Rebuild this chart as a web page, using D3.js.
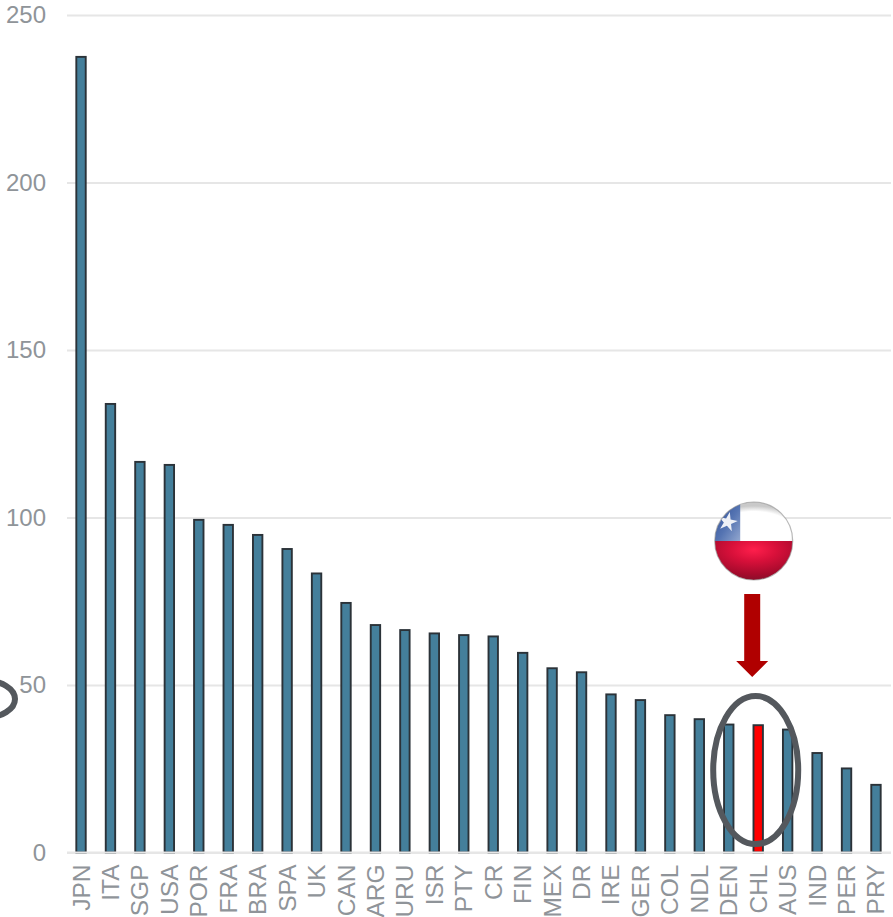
<!DOCTYPE html>
<html>
<head>
<meta charset="utf-8">
<script src="https://cdn.jsdelivr.net/npm/d3@7"></script>
<style>
html,body{margin:0;padding:0;background:#fff;overflow:hidden}
svg{display:block}
text{font-family:"Liberation Sans",Arial,sans-serif}
</style>
</head>
<body>
<svg id="chart" width="893" height="917"></svg>
<script>
// Country codes and their values, in descending order
const countries = ["JPN","ITA","SGP","USA","POR","FRA","BRA","SPA","UK","CAN","ARG","URU","ISR","PTY","CR","FIN","MEX","DR","IRE","GER","COL","NDL","DEN","CHL","AUS","IND","PER","PRY"];
const values = [237.5,133.9,116.6,115.7,99.3,97.8,94.8,90.6,83.3,74.5,67.9,66.4,65.4,64.9,64.5,59.6,55,53.8,47.2,45.5,41,39.8,38.2,38,36.7,29.7,25.1,20.2];
const yTicks = [0,50,100,150,200,250];
const highlighted = "CHL";

const svg = d3.select("#chart");
const gridLeft = 67, gridRight = 891, yBase = 852.5, yTop = 15;

const x = d3.scaleBand().domain(countries).range([66.3, 890.7]).paddingInner(0.68).paddingOuter(0.34);
const y = d3.scaleLinear().domain([0, 250]).range([yBase, yTop]);

// Horizontal gridlines and value labels
const yAxis = svg.append("g")
  .attr("transform", `translate(${gridLeft},0)`)
  .call(d3.axisLeft(y).tickValues(yTicks).tickSize(-(gridRight - gridLeft)).tickPadding(21));
yAxis.select(".domain").remove();
yAxis.selectAll(".tick line").attr("stroke", "#e6e6e6").attr("stroke-width", 2);
yAxis.selectAll(".tick text").attr("fill", "#8f9499").style("font-size", "24px").attr("font-family", null);

// Bars
svg.append("g").selectAll("rect").data(countries).join("rect")
  .attr("x", d => x(d))
  .attr("width", x.bandwidth())
  .attr("y", (d, i) => y(values[i]))
  .attr("height", (d, i) => yBase - y(values[i]))
  .attr("fill", d => d === highlighted ? "#ff0000" : "#447f9b")
  .attr("stroke", "#2b3238")
  .attr("stroke-width", 1.9);

// Category axis drawn over the bar bases
const xAxis = svg.append("g")
  .attr("transform", `translate(0,${yBase})`)
  .call(d3.axisBottom(x).tickSize(0).tickPadding(0));
xAxis.select(".domain").remove();
xAxis.append("line").attr("x1", gridLeft).attr("x2", gridRight)
  .attr("stroke", "#e6e6e6").attr("stroke-width", 2);
xAxis.selectAll(".tick text")
  .attr("fill", "#8f9499").attr("font-family", null).style("font-size", "24.5px")
  .attr("text-anchor", "end").attr("dy", null)
  .attr("dominant-baseline", "central")
  .attr("transform", "translate(0,12) rotate(-90)")
  .attr("x", 0).attr("y", 0);

// Rings around the highlighted group and beside the 50 label
const ringColor = "#54585d";
const hx = x(highlighted) + x.bandwidth() / 2;
svg.append("ellipse")
  .attr("cx", hx - 2.5).attr("cy", y(24.6)).attr("rx", 42.5).attr("ry", 74)
  .attr("fill", "none").attr("stroke", ringColor).attr("stroke-width", 6);
svg.append("ellipse")
  .attr("cx", -15).attr("cy", y(45.8)).attr("rx", 30).attr("ry", 18.5)
  .attr("fill", "none").attr("stroke", ringColor).attr("stroke-width", 6);

// Arrow pointing down at the highlighted bar
const arrowTop = 594, shaftEnd = 661, tip = 677;
const ax = hx - 6;
svg.append("path")
  .attr("d", d3.line()([[ax-8,arrowTop],[ax+8,arrowTop],[ax+8,shaftEnd],[ax+16,shaftEnd],[ax,tip],[ax-16,shaftEnd],[ax-8,shaftEnd]]) + "Z")
  .attr("fill", "#b00000");

// Glossy round flag of Chile
const defs = svg.append("defs");
const fx = hx - 4.5, fy = 541, fr = 39;
defs.append("clipPath").attr("id", "flagClip").append("circle").attr("cx", fx).attr("cy", fy).attr("r", fr);

const redGrad = defs.append("radialGradient").attr("id", "redGlow").attr("cx", "50%").attr("cy", "22%").attr("r", "85%");
[[0,"#ff1f4c"],[0.35,"#d8103a"],[0.75,"#a50a2c"],[1,"#7d1029"]].forEach(([o,c]) => redGrad.append("stop").attr("offset", o).attr("stop-color", c));

const blueGrad = defs.append("linearGradient").attr("id", "blueGlow").attr("x1", "0").attr("y1", "0").attr("x2", "1").attr("y2", "1");
[[0,"#2a4a96"],[0.55,"#5574b2"],[1,"#93a7cf"]].forEach(([o,c]) => blueGrad.append("stop").attr("offset", o).attr("stop-color", c));

const whiteGrad = defs.append("radialGradient").attr("id", "whiteGlow").attr("cx", "50%").attr("cy", "75%").attr("r", "65%");
[[0,"#ffffff"],[0.78,"#ffffff"],[1,"#c9c9c9"]].forEach(([o,c]) => whiteGrad.append("stop").attr("offset", o).attr("stop-color", c));

const flag = svg.append("g").attr("clip-path", "url(#flagClip)");
flag.append("rect").attr("x", fx-fr).attr("y", fy-fr).attr("width", 2*fr).attr("height", fr).attr("fill", "url(#whiteGlow)");
flag.append("rect").attr("x", fx-fr).attr("y", fy-fr).attr("width", 25.5).attr("height", fr).attr("fill", "url(#blueGlow)");
flag.append("rect").attr("x", fx-fr).attr("y", fy).attr("width", 2*fr).attr("height", fr).attr("fill", "url(#redGlow)");
flag.append("path")
  .attr("d", d3.symbol(d3.symbolStar, 115)())
  .attr("transform", `translate(${fx-26},${fy-19}) rotate(12)`)
  .attr("fill", "#eef0f6");
svg.append("circle").attr("cx", fx).attr("cy", fy).attr("r", fr)
  .attr("fill", "none").attr("stroke", "#8a8a8a").attr("stroke-opacity", 0.6).attr("stroke-width", 1.2);
</script>
</body>
</html>
